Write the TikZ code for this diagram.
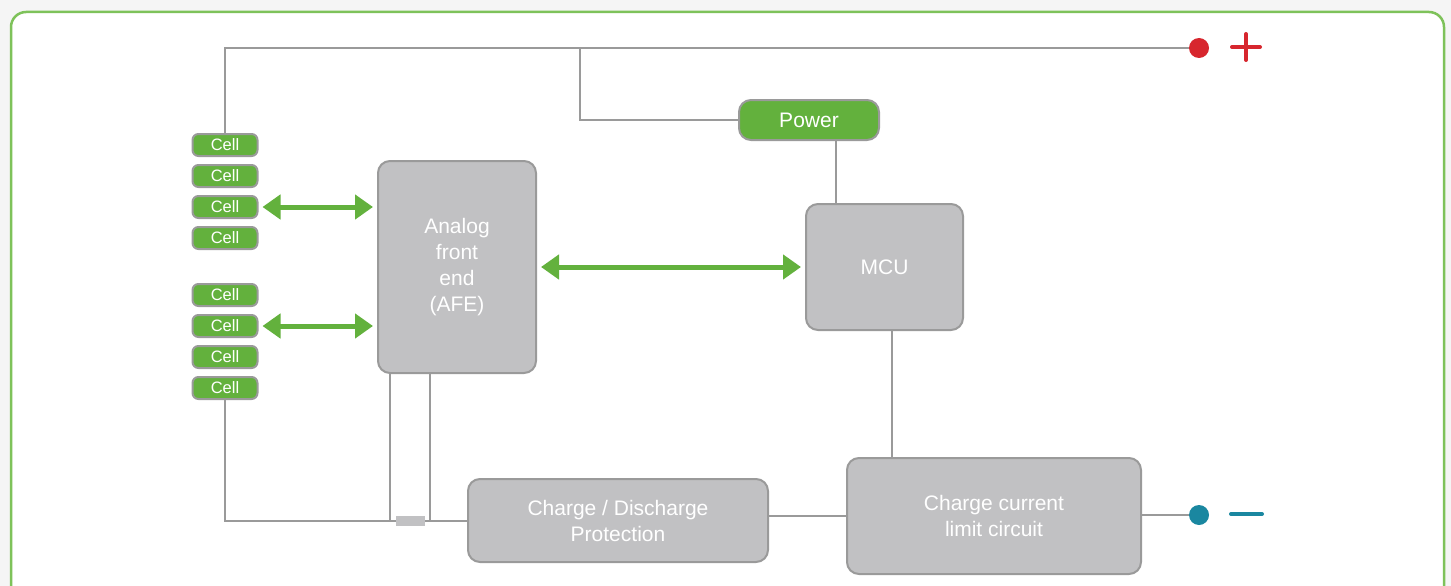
\documentclass[tikz,border=0pt]{standalone}
\usepackage{fontspec}
\setmainfont{Liberation Sans}
\usetikzlibrary{arrows.meta,positioning}

\definecolor{bmsgreen}{HTML}{63B13D}
\definecolor{framegreen}{HTML}{7EC25A}
\definecolor{boxgray}{HTML}{C1C1C3}
\definecolor{wiregray}{HTML}{9A9A9A}
\definecolor{bggray}{HTML}{F5F5F5}
\definecolor{plusred}{HTML}{D7262E}
\definecolor{minusblue}{HTML}{1A87A0}

\begin{document}
\begin{tikzpicture}[
	x=1pt,y=-1pt,
	font=\fontsize{21}{26}\selectfont,
	block/.style={
	draw=wiregray,fill=boxgray,line width=2pt,rounded corners=12pt,
	text=white,align=center,inner sep=0pt,
	},
	cellbox/.style={
	draw=wiregray,fill=bmsgreen,line width=2pt,rounded corners=6pt,
	text=white,font=\fontsize{16.5}{18}\selectfont,
	minimum width=65pt,minimum height=22pt,inner sep=0pt,
	},
	linie/.style={
	draw=wiregray,line width=2pt,
	},
	pfeil/.style={
	draw=bmsgreen,line width=5pt,
	{Triangle[length=18pt,width=24pt]}-{Triangle[length=18pt,width=24pt]},
	shorten <=4pt,shorten >=4pt,
	},
	pol/.style={
	circle,minimum size=20pt,inner sep=0pt,
	}
	]

\useasboundingbox (0,0) rectangle (1451,586);
\clip (0,0) rectangle (1451,586);
\fill[bggray] (0,0) rectangle (1451,586);
\draw[framegreen,line width=2.5pt,fill=white,rounded corners=15pt] (11,12) rectangle (1444,620);

% cells
\node[cellbox] (cell1) at (225,145) {Cell};
\node[cellbox,below=7pt of cell1] (cell2) {Cell};
\node[cellbox,below=7pt of cell2] (cell3) {Cell};
\node[cellbox,below=7pt of cell3] (cell4) {Cell};
\node[cellbox,below=33pt of cell4] (cell5) {Cell};
\node[cellbox,below=7pt of cell5] (cell6) {Cell};
\node[cellbox,below=7pt of cell6] (cell7) {Cell};
\node[cellbox,below=7pt of cell7] (cell8) {Cell};

% blocks
\node[block,anchor=north west,minimum width=158pt,minimum height=212pt] (afe) at (377,160) {Analog\\front\\end\\(AFE)};
\node[block,anchor=north west,minimum width=157pt,minimum height=126pt] (mcu) at (805,203) {MCU};
\node[block,anchor=north west,minimum width=140pt,minimum height=40pt,fill=bmsgreen] (power) at (738,99) {Power};
\node[block,anchor=north west,minimum width=300pt,minimum height=83pt] (cdp) at (467,478) {Charge / Discharge\\Protection};
\node[block,anchor=north west,minimum width=294pt,minimum height=116pt] (ccl) at (846,457) {Charge current\\limit circuit};

% terminals
\node[pol,fill=plusred] (plus) at (1199,48) {};
\node[pol,fill=minusblue] (minus) at (1199,515) {};
\coordinate (tap) at (580,48);
\draw[plusred,line width=4pt,line cap=round] (1232,47) -- (1260,47) (1246,34) -- (1246,60);
\draw[minusblue,line width=4pt,line cap=round] (1231,514) -- (1262,514);

% wires
\draw[linie] (cell1.north) |- (plus);
\draw[linie] (power.west) -| (tap);
\draw[linie] ([xshift=27pt]power.south) -- ([xshift=27pt]power.south |- mcu.north);
\draw[linie] ([xshift=7pt]mcu.south) -- ([xshift=7pt]mcu.south |- ccl.north);
\draw[linie] (cell8.south) |- (cdp.west);
\draw[linie] ([xshift=13pt]afe.south west) -- ([xshift=13pt]afe.south west |- cdp.west);
\draw[linie] ([xshift=53pt]afe.south west) -- ([xshift=53pt]afe.south west |- cdp.west);
\draw[linie] (ccl.west -| cdp.east) -- (ccl.west);
\draw[linie] (ccl.east |- minus) -- (minus);

% fuse on the return line
\node[fill=boxgray,minimum width=29pt,minimum height=10pt,inner sep=0pt] (fuse) at (cdp.west -| 410,0) {};

% data links
\draw[pfeil] (cell3.east) -- (cell3.east -| afe.west);
\draw[pfeil] (cell6.east) -- (cell6.east -| afe.west);
\draw[pfeil] (afe.east) -- (mcu.west);

\end{tikzpicture}
\end{document}
